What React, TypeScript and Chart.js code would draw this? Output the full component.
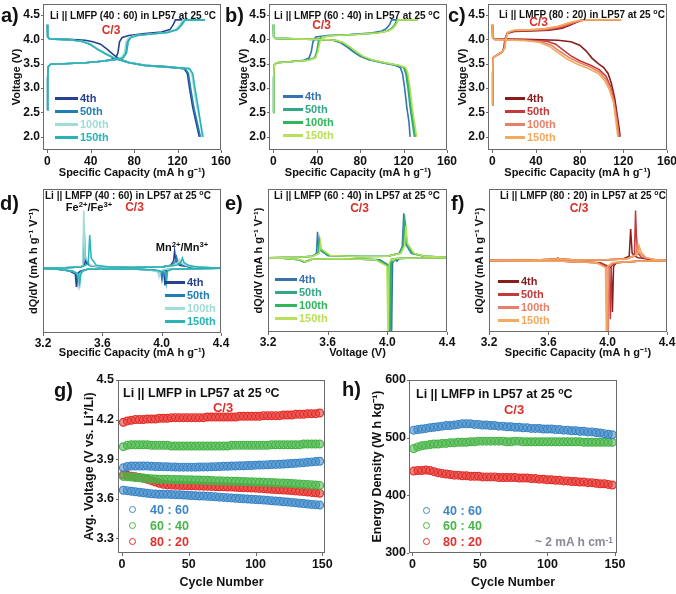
import React, { useEffect, useRef } from "react";
import { Chart, registerables } from "chart.js";
Chart.register(...registerables);

const FONT = "'Liberation Sans', Arial, Helvetica, sans-serif";

// ---------- tick labels ----------
const capTicks = [0, 40, 80, 120, 160];
const voltTicks = [2.0, 2.5, 3.0, 3.5, 4.0, 4.5];
const dqdvTicks = [3.2, 3.6, 4.0, 4.4];
const cycleTicks = [0, 50, 100, 150];
const avgVTicks = [3.3, 3.6, 3.9, 4.2, 4.5];
const energyTicks = [300, 400, 500, 600];
const cycleLabels = ["4th", "50th", "100th", "150th"];
const ratioLabels = ["40 : 60", "60 : 40", "80 : 20"];

// ---------- colours ----------
const aColors = ["#26418f", "#1f7fb5", "#9fdcd4", "#25b5b5"];
const bColors = ["#3574b0", "#33a888", "#2eb85a", "#b8e05a"];
const cColors = ["#8a1c1c", "#c43a3a", "#e8806a", "#f2aa5e"];
const ratioColors = ["#3d86c6", "#48b548", "#e3302b"];
const ratioFills = ["rgba(61,134,198,0.55)", "rgba(72,181,72,0.55)", "rgba(227,48,43,0.55)"];

// ---------- (a) 40:60 charge / discharge ----------
const a_chg_4 = [[0,2.55],[0.3,3.2],[0.8,3.44],[3,3.49],[15,3.5],[35,3.52],[50,3.55],[58,3.58],[63,3.62],[65,3.72],[66.5,3.95],[69,4.04],[75,4.08],[90,4.12],[105,4.15],[113,4.2],[116,4.3],[118,4.4],[145,4.4]];
const a_chg_50 = [[0,2.55],[0.3,3.2],[0.8,3.44],[3,3.49],[15,3.5],[35,3.52],[50,3.55],[62,3.58],[69,3.62],[72,3.72],[73.5,3.95],[76,4.04],[82,4.08],[95,4.11],[110,4.14],[119,4.2],[123,4.3],[126,4.4],[145,4.4]];
const a_chg_100 = [[0,2.55],[0.3,3.2],[0.8,3.44],[3,3.49],[15,3.5],[35,3.52],[50,3.55],[61,3.58],[68,3.62],[71,3.72],[72.5,3.95],[75,4.04],[81,4.08],[95,4.11],[110,4.14],[118,4.2],[122,4.3],[125,4.4],[145,4.4]];
const a_chg_150 = [[0,2.55],[0.3,3.2],[0.8,3.44],[3,3.49],[15,3.5],[35,3.52],[50,3.55],[63,3.58],[70,3.62],[73,3.72],[74.5,3.95],[77,4.04],[83,4.08],[96,4.11],[111,4.14],[120,4.2],[124,4.3],[127,4.4],[145,4.4]];
const a_dis_4 = [[0,4.3],[0.3,4.05],[2,4.01],[20,4.0],[35,3.98],[42,3.95],[49,3.9],[55,3.8],[60,3.7],[66,3.6],[75,3.53],[90,3.47],[110,3.44],[126,3.4],[129,3.3],[131,3.0],[134,2.6],[137,2.3],[140,2.0]];
const a_dis_50 = [[0,4.3],[0.3,4.05],[2,4.01],[20,3.99],[32,3.96],[40,3.9],[46,3.8],[54,3.7],[63,3.6],[75,3.52],[90,3.46],[110,3.43],[127,3.4],[130,3.3],[132,3.0],[135,2.6],[138,2.3],[141,2.0]];
const a_dis_100 = [[0,4.3],[0.3,4.05],[2,4.01],[20,3.99],[32,3.96],[40,3.9],[47,3.8],[55,3.7],[64,3.6],[76,3.52],[92,3.46],[112,3.43],[130,3.4],[133,3.3],[135,3.0],[138,2.6],[141,2.3],[144,2.0]];
const a_dis_150 = [[0,4.3],[0.3,4.05],[2,4.01],[20,3.99],[31,3.96],[39,3.9],[46,3.8],[54,3.7],[63,3.6],[75,3.52],[92,3.46],[112,3.43],[131,3.4],[134,3.3],[136,3.0],[139,2.6],[141,2.3],[143,2.0]];

// ---------- (b) 60:40 ----------
const b_chg_4 = [[0,2.5],[0.3,3.2],[0.8,3.47],[3,3.52],[15,3.54],[28,3.57],[33,3.62],[35,3.75],[36.5,3.95],[39,4.05],[50,4.08],[70,4.1],[90,4.13],[100,4.17],[104,4.22],[107,4.3],[109,4.4],[130,4.4]];
const b_chg_50 = [[0,2.5],[0.3,3.2],[0.8,3.47],[3,3.52],[15,3.54],[32,3.57],[38,3.62],[40,3.75],[41.5,3.95],[44,4.05],[55,4.08],[75,4.1],[95,4.13],[105,4.17],[109,4.22],[112,4.3],[114,4.4],[132,4.4]];
const b_chg_100 = [[0,2.5],[0.3,3.2],[0.8,3.47],[3,3.52],[15,3.54],[32,3.57],[38.5,3.62],[40.5,3.75],[42,3.95],[44.5,4.05],[55,4.08],[75,4.1],[95,4.13],[105,4.17],[109,4.22],[112,4.3],[114,4.4],[133,4.4]];
const b_chg_150 = [[0,2.5],[0.3,3.2],[0.8,3.47],[3,3.52],[15,3.54],[33,3.57],[39,3.62],[41,3.75],[43,3.95],[45.5,4.05],[56,4.08],[76,4.1],[96,4.13],[106,4.17],[110,4.22],[113,4.3],[115,4.4],[133,4.4]];
const b_dis_4 = [[0,4.3],[0.3,4.05],[2,4.02],[20,4.01],[40,4.0],[55,3.98],[62,3.93],[68,3.84],[74,3.74],[80,3.65],[88,3.58],[100,3.52],[112,3.47],[117,3.42],[119,3.3],[121,3.0],[123,2.6],[125,2.3],[126,2.0]];
const b_dis_50 = [[0,4.3],[0.3,4.05],[2,4.02],[20,4.01],[40,4.0],[57,3.98],[64,3.93],[70,3.84],[76,3.74],[82,3.65],[90,3.58],[102,3.52],[114,3.47],[120,3.42],[122,3.3],[124,3.0],[126,2.6],[128,2.3],[130,2.0]];
const b_dis_100 = [[0,4.3],[0.3,4.05],[2,4.02],[20,4.01],[40,4.0],[57,3.98],[64,3.93],[70,3.84],[76,3.74],[82,3.65],[90,3.58],[102,3.52],[115,3.47],[121,3.42],[123,3.3],[125,3.0],[127,2.6],[129,2.3],[131,2.0]];
const b_dis_150 = [[0,4.3],[0.3,4.05],[2,4.02],[20,4.01],[40,4.0],[58,3.98],[65,3.93],[71,3.84],[77,3.74],[83,3.65],[91,3.58],[103,3.52],[116,3.47],[122,3.42],[124,3.3],[126,3.0],[128,2.6],[130,2.3],[132,2.0]];

// ---------- (c) 80:20 ----------
const c_chg_4 = [[0,2.65],[0.3,3.3],[0.8,3.62],[3,3.66],[6,3.7],[9,3.74],[10.5,3.82],[11.5,4.0],[13.5,4.12],[20,4.16],[35,4.17],[52,4.19],[64,4.23],[72,4.3],[79,4.37],[82,4.4],[117,4.4]];
const c_chg_50 = [[0,2.65],[0.3,3.3],[0.8,3.62],[3,3.66],[6,3.7],[9,3.74],[11,3.82],[12,4.0],[14,4.13],[20,4.17],[35,4.18],[52,4.2],[64,4.25],[73,4.32],[81,4.38],[85,4.4],[118,4.4]];
const c_chg_100 = [[0,2.65],[0.3,3.3],[0.8,3.62],[3,3.66],[6,3.7],[9,3.74],[11,3.82],[12,4.0],[14,4.14],[20,4.18],[35,4.19],[50,4.21],[62,4.26],[72,4.33],[80,4.38],[86,4.4],[118,4.4]];
const c_chg_150 = [[0,2.65],[0.3,3.3],[0.8,3.62],[3,3.66],[6,3.7],[9,3.74],[11.5,3.82],[12.5,4.0],[14.5,4.15],[20,4.19],[35,4.2],[48,4.22],[60,4.27],[70,4.34],[80,4.39],[87,4.4],[118,4.4]];
const c_dis_4 = [[0,4.3],[0.3,4.04],[2,4.01],[30,4.0],[60,3.98],[72,3.95],[80,3.88],[86,3.76],[91,3.62],[97,3.5],[102,3.42],[106,3.3],[109,3.1],[112,2.8],[114,2.5],[116,2.2],[117,2.0]];
const c_dis_50 = [[0,4.3],[0.3,4.04],[2,4.0],[30,3.99],[50,3.96],[58,3.9],[65,3.78],[72,3.66],[80,3.56],[90,3.47],[98,3.38],[104,3.25],[108,3.05],[111,2.8],[114,2.4],[116,2.0]];
const c_dis_100 = [[0,4.3],[0.3,4.04],[2,4.0],[30,3.98],[45,3.95],[54,3.88],[62,3.75],[70,3.63],[80,3.52],[90,3.43],[98,3.33],[104,3.18],[108,3.0],[111,2.75],[114,2.35],[116,2.0]];
const c_dis_150 = [[0,4.3],[0.3,4.04],[2,4.0],[30,3.97],[43,3.94],[52,3.86],[60,3.73],[68,3.6],[78,3.49],[88,3.4],[97,3.3],[103,3.15],[107,2.98],[111,2.7],[113,2.35],[115,2.0]];

// ---------- (d) dQ/dV 40:60 ----------
const d_chg_4 = [[3.2,0],[3.35,0.3],[3.45,0.8],[3.48,2],[3.488,7],[3.495,3],[3.53,1.5],[3.6,0.8],[3.8,0.5],[4.0,0.8],[4.06,2],[4.08,5],[4.087,12],[4.095,5],[4.12,2],[4.2,0.6],[4.4,0.2]];
const d_chg_50 = [[3.2,0],[3.35,0.3],[3.45,0.8],[3.47,2],[3.477,30],[3.485,6],[3.52,1.5],[3.6,0.8],[3.8,0.5],[4.0,0.8],[4.07,2],[4.09,4],[4.1,8],[4.11,4],[4.14,2],[4.2,0.6],[4.4,0.2]];
const d_chg_100 = [[3.2,0],[3.35,0.3],[3.45,0.8],[3.468,2],[3.475,40],[3.483,8],[3.52,2],[3.6,0.8],[3.8,0.5],[4.0,0.8],[4.08,2],[4.11,4],[4.12,6],[4.13,4],[4.16,2],[4.22,0.6],[4.4,0.2]];
const d_chg_150 = [[3.2,0],[3.35,0.3],[3.46,0.8],[3.505,3],[3.515,23],[3.525,7],[3.56,2],[3.65,0.8],[3.8,0.5],[4.0,0.8],[4.1,2],[4.13,4],[4.14,7],[4.15,4],[4.18,2],[4.25,0.6],[4.4,0.2]];
const d_dis_4 = [[4.4,0],[4.2,-0.3],[4.06,-0.8],[4.03,-2],[4.022,-12],[4.015,-3],[3.95,-1.2],[3.8,-0.6],[3.6,-0.5],[3.5,-0.8],[3.45,-2],[3.43,-4],[3.425,-13],[3.418,-4],[3.38,-2],[3.3,-0.8],[3.2,-0.2]];
const d_dis_50 = [[4.4,0],[4.2,-0.3],[4.04,-0.8],[4.01,-2],[4.002,-8],[3.995,-3],[3.93,-1.2],[3.8,-0.6],[3.6,-0.5],[3.5,-0.8],[3.46,-2],[3.44,-4],[3.435,-10],[3.428,-4],[3.39,-2],[3.3,-0.8],[3.2,-0.2]];
const d_dis_100 = [[4.4,0],[4.2,-0.3],[4.02,-0.8],[3.99,-2],[3.982,-6],[3.975,-2.5],[3.92,-1.2],[3.8,-0.6],[3.6,-0.5],[3.5,-0.8],[3.47,-2],[3.45,-4],[3.443,-9],[3.435,-4],[3.4,-2],[3.3,-0.8],[3.2,-0.2]];
const d_dis_150 = [[4.4,0],[4.2,-0.3],[4.07,-0.8],[4.04,-2],[4.032,-10],[4.025,-3],[3.96,-1.2],[3.8,-0.6],[3.6,-0.5],[3.5,-0.8],[3.47,-2],[3.455,-4],[3.448,-11],[3.44,-4],[3.4,-2],[3.3,-0.8],[3.2,-0.2]];

// ---------- (e) dQ/dV 60:40 ----------
const e_chg_4 = [[3.2,0],[3.4,0.3],[3.5,1],[3.525,3],[3.532,18],[3.54,6],[3.6,1.5],[3.8,0.8],[4.0,1],[4.08,3],[4.1,8],[4.11,31],[4.12,10],[4.16,3],[4.25,1],[4.4,0.3]];
const e_chg_50 = [[3.2,0],[3.4,0.3],[3.5,1],[3.535,3],[3.542,13],[3.55,6],[3.6,1.5],[3.8,0.8],[4.0,1],[4.08,3],[4.105,8],[4.115,30],[4.125,10],[4.165,3],[4.25,1],[4.4,0.3]];
const e_chg_100 = [[3.2,0],[3.4,0.3],[3.5,1],[3.54,3],[3.547,12],[3.555,6],[3.61,1.5],[3.8,0.8],[4.0,1],[4.09,3],[4.11,8],[4.12,26],[4.13,10],[4.17,3],[4.25,1],[4.4,0.3]];
const e_chg_150 = [[3.2,0],[3.4,0.3],[3.5,1],[3.545,3],[3.552,11],[3.56,6],[3.62,1.5],[3.8,0.8],[4.0,1],[4.09,3],[4.115,8],[4.125,22],[4.135,10],[4.18,3],[4.25,1],[4.4,0.3]];
const e_dis_4 = [[4.4,0],[4.2,-0.3],[4.08,-0.6],[4.065,-2.5],[4.05,-1],[4.035,-4],[4.028,-60],[4.02,-6],[3.95,-1.5],[3.7,-0.8],[3.5,-1],[3.46,-2.5],[3.44,-3],[3.41,-1.5],[3.3,-0.5],[3.2,0]];
const e_dis_50 = [[4.4,0],[4.2,-0.3],[4.07,-0.6],[4.055,-2],[4.04,-1],[4.027,-4],[4.02,-60],[4.012,-6],[3.94,-1.5],[3.7,-0.8],[3.5,-1],[3.46,-2.5],[3.44,-3],[3.41,-1.5],[3.3,-0.5],[3.2,0]];
const e_dis_100 = [[4.4,0],[4.2,-0.3],[4.06,-0.6],[4.045,-2],[4.03,-1],[4.019,-4],[4.012,-60],[4.004,-6],[3.93,-1.5],[3.7,-0.8],[3.5,-1],[3.46,-2.5],[3.445,-3],[3.41,-1.5],[3.3,-0.5],[3.2,0]];
const e_dis_150 = [[4.4,0],[4.2,-0.3],[4.05,-0.6],[4.04,-2],[4.025,-1],[4.012,-4],[4.005,-60],[3.997,-6],[3.92,-1.5],[3.7,-0.8],[3.5,-1],[3.47,-2.5],[3.45,-3],[3.42,-1.5],[3.3,-0.5],[3.2,0]];

// ---------- (f) dQ/dV 80:20 ----------
const f_chg_4 = [[3.2,0],[3.5,0.3],[3.64,0.8],[3.665,1.5],[3.69,0.8],[3.8,0.3],[4.0,0.5],[4.1,1],[4.145,3],[4.155,22],[4.165,5],[4.2,2],[4.3,0.5],[4.4,0.2]];
const f_chg_50 = [[3.2,0],[3.5,0.3],[3.64,0.8],[3.665,1.5],[3.69,0.8],[3.8,0.3],[4.0,0.5],[4.12,1],[4.18,3],[4.188,35],[4.197,6],[4.23,2],[4.3,0.5],[4.4,0.2]];
const f_chg_100 = [[3.2,0],[3.5,0.3],[3.64,0.8],[3.665,1.2],[3.69,0.8],[3.8,0.3],[4.0,0.5],[4.12,1],[4.19,4],[4.2,13],[4.21,6],[4.25,2],[4.32,0.5],[4.4,0.2]];
const f_chg_150 = [[3.2,0],[3.5,0.3],[3.64,0.8],[3.665,1.2],[3.69,0.8],[3.8,0.3],[4.0,0.5],[4.13,1],[4.2,4],[4.213,10],[4.225,6],[4.26,2],[4.33,0.5],[4.4,0.2]];
const f_dis_4 = [[4.4,0],[4.2,-0.5],[4.06,-1.5],[4.04,-4],[4.032,-36],[4.024,-5],[3.95,-1.5],[3.7,-0.5],[3.4,-0.3],[3.2,0]];
const f_dis_50 = [[4.4,0],[4.2,-0.5],[4.05,-1.5],[4.025,-4],[4.018,-41],[4.01,-5],[3.94,-1.5],[3.7,-0.5],[3.4,-0.3],[3.2,0]];
const f_dis_100 = [[4.4,0],[4.2,-0.5],[4.04,-1.5],[4.01,-4],[4.003,-60],[3.995,-5],[3.93,-1.5],[3.7,-0.5],[3.4,-0.3],[3.2,0]];
const f_dis_150 = [[4.4,0],[4.2,-0.5],[4.03,-1.5],[4.0,-4],[3.992,-60],[3.985,-5],[3.92,-1.5],[3.7,-0.5],[3.4,-0.3],[3.2,0]];

// ---------- (g) / (h) cycling ----------
const cycles = [1,4,7,10,13,16,19,22,25,28,31,34,37,40,43,46,49,52,55,58,61,64,67,70,73,76,79,82,85,88,91,94,97,100,103,106,109,112,115,118,121,124,127,130,133,136,139,142,145,148];
const vChg_40_60 = [3.835,3.845,3.848,3.848,3.848,3.848,3.848,3.846,3.845,3.845, 3.844,3.843,3.842,3.841,3.84,3.84,3.84,3.84,3.84,3.841, 3.842,3.842,3.843,3.844,3.845,3.846,3.847,3.848,3.849,3.85, 3.851,3.852,3.853,3.855,3.856,3.857,3.858,3.86,3.861,3.862, 3.864,3.866,3.868,3.87,3.872,3.874,3.877,3.88,3.882,3.885];
const vDis_40_60 = [3.665,3.662,3.658,3.654,3.65,3.646,3.642,3.638,3.636,3.635, 3.635,3.634,3.633,3.632,3.631,3.629,3.627,3.625,3.624,3.622, 3.621,3.619,3.617,3.615,3.613,3.611,3.609,3.607,3.605,3.603, 3.601,3.599,3.597,3.595,3.593,3.591,3.589,3.586,3.584,3.581, 3.578,3.576,3.573,3.57,3.567,3.564,3.561,3.558,3.556,3.553];
const vChg_60_40 = [3.995,4.005,4.01,4.01,4.01,4.01,4.01,4.005,4.005,4.005, 4.005,4.005,4.0,4.0,4.0,4.0,4.0,4.0,4.0,4.0, 4.0,4.0,4.0,4.0,4.0,4.0,4.0,4.005,4.005,4.005, 4.005,4.005,4.005,4.005,4.005,4.005,4.005,4.01,4.01,4.01, 4.01,4.01,4.01,4.01,4.01,4.015,4.015,4.015,4.015,4.015];
const vDis_60_40 = [3.77,3.768,3.765,3.762,3.76,3.758,3.755,3.752,3.75,3.749, 3.748,3.748,3.747,3.746,3.746,3.745,3.745,3.744,3.743,3.742, 3.741,3.74,3.739,3.738,3.737,3.736,3.735,3.734,3.733,3.732, 3.731,3.73,3.729,3.728,3.727,3.726,3.724,3.723,3.722,3.721, 3.72,3.718,3.716,3.714,3.712,3.71,3.708,3.706,3.704,3.702];
const vChg_80_20 = [4.18,4.19,4.195,4.2,4.2,4.2,4.205,4.205,4.205,4.21, 4.21,4.21,4.215,4.215,4.215,4.215,4.215,4.215,4.215,4.215, 4.215,4.22,4.22,4.22,4.22,4.22,4.22,4.22,4.22,4.225, 4.225,4.225,4.225,4.225,4.225,4.23,4.23,4.23,4.23,4.23, 4.235,4.235,4.235,4.24,4.24,4.24,4.245,4.245,4.245,4.25];
const vDis_80_20 = [3.782,3.778,3.772,3.768,3.762,3.756,3.748,3.738,3.728,3.718, 3.71,3.706,3.704,3.703,3.702,3.701,3.7,3.699,3.698,3.697, 3.696,3.695,3.694,3.693,3.692,3.691,3.69,3.689,3.688,3.686, 3.685,3.684,3.682,3.681,3.679,3.677,3.675,3.673,3.671,3.669, 3.667,3.665,3.663,3.66,3.658,3.655,3.652,3.649,3.646,3.642];
const energy_40_60 = [513,514,515,516,517,518,519,520,521,521, 522,523,524,524,524,523,523,522,522,521, 521,520,520,519,519,518,518,517,517,516, 516,516,515,515,515,514,514,513,513,512, 512,511,511,510,510,509,508,507,506,505];
const energy_60_40 = [481,484,486,487,488,489,489,490,490,491, 491,492,492,492,493,493,494,494,494,494, 494,494,494,493,493,494,494,493,493,493, 493,493,493,493,493,493,493,493,493,493, 493,493,492,492,492,492,492,492,492,492];
const energy_80_20 = [442,443,443,444,443,441,439,438,437,436, 435,435,434,434,433,433,433,432,432,432, 432,431,431,431,431,431,430,430,430,429, 429,428,428,427,427,426,426,425,425,424, 424,423,423,422,422,421,420,420,419,418];

// ---------- chart building ----------
type Geo = { cl: number; ct: number; cw: number; ch: number; l: number; t: number; r: number; b: number };
type Axis = { min: number; max: number; ticks: number[] | null; fmt: (v: number) => string; title: string; titleAt: number; pad: number };
type Spec = { geo: Geo; x: Axis; y: Axis; datasets: any[]; tickSize: number; titleSize: number };

const f0 = (v: number) => String(v);
const f1 = (v: number) => v.toFixed(1);

function curveSets(chg: number[][][], dis: number[][][], colors: string[], w = 1.6) {
  const out: any[] = [];
  for (let i = chg.length - 1; i >= 0; i--) {
    for (const arr of [chg[i], dis[i]]) {
      out.push({
        data: arr.map((p) => ({ x: p[0], y: p[1] })),
        borderColor: colors[i],
        borderWidth: w,
        pointRadius: 0,
        showLine: true,
        fill: false,
      });
    }
  }
  return out;
}

function scatterSets(series: number[][], idx: number[]) {
  return series.map((vals, i) => ({
    data: vals.map((v, k) => ({ x: cycles[k], y: v })),
    borderColor: ratioColors[idx[i]],
    backgroundColor: ratioFills[idx[i]],
    pointBorderWidth: 1.2,
    pointRadius: 3.9,
    pointStyle: "circle",
    showLine: false,
  }));
}

const framePlugin = {
  id: "frame",
  afterDraw(chart: any) {
    const { ctx, chartArea: a } = chart;
    ctx.save();
    ctx.strokeStyle = "#6a6a6a";
    ctx.lineWidth = 1;
    ctx.strokeRect(a.left + 0.5, a.top + 0.5, a.right - a.left - 1, a.bottom - a.top - 1);
    const xs = chart.scales.x;
    xs.ticks.forEach((t: any) => {
      const px = Math.round(xs.getPixelForValue(t.value)) + 0.5;
      ctx.beginPath(); ctx.moveTo(px, a.bottom); ctx.lineTo(px, a.bottom + 3); ctx.stroke();
    });
    const ys = chart.scales.y;
    if (ys.options.ticks.display) {
      ys.ticks.forEach((t: any) => {
        const py = Math.round(ys.getPixelForValue(t.value)) + 0.5;
        ctx.beginPath(); ctx.moveTo(a.left, py); ctx.lineTo(a.left - 2, py); ctx.stroke();
      });
    }
    ctx.restore();
  },
};

function makeChart(canvas: HTMLCanvasElement, s: Spec) {
  const g = s.geo;
  const yW = g.l - g.cl;
  const xH = g.ct + g.ch - g.b;
  const lh = s.titleSize * 1.2;
  const tickFont = { family: FONT, size: s.tickSize, weight: "bold" as const };
  const titleFont = { family: FONT, size: s.titleSize, weight: "bold" as const };
  const axis = (ax: Axis, isX: boolean) => ({
    type: "linear",
    position: isX ? "bottom" : "left",
    min: ax.min,
    max: ax.max,
    afterFit: (sc: any) => {
      if (isX) sc.height = xH;
      else sc.width = yW;
    },
    afterBuildTicks: (sc: any) => {
      sc.ticks = (ax.ticks || []).map((v) => ({ value: v }));
    },
    grid: { display: false, drawTicks: false, tickLength: 0 },
    border: { display: false },
    ticks: {
      display: ax.ticks !== null,
      padding: ax.pad,
      font: tickFont,
      color: "#111",
      maxRotation: 0,
      autoSkip: false,
      callback: (v: any) => ax.fmt(Number(v)),
    },
    title: {
      display: true,
      text: ax.title,
      font: titleFont,
      color: "#111",
      padding: isX
        ? { top: 0, bottom: g.ct + g.ch - ax.titleAt - lh / 2 }
        : { top: ax.titleAt - g.cl - lh / 2, bottom: 0 },
    },
  });
  return new Chart(canvas, {
    type: "scatter",
    data: { datasets: s.datasets },
    options: {
      animation: false,
      responsive: false,
      maintainAspectRatio: false,
      layout: { padding: { top: g.t - g.ct, right: g.cl + g.cw - g.r, left: 0, bottom: 0 } },
      plugins: { legend: { display: false }, tooltip: { enabled: false } },
      scales: { x: axis(s.x, true) as any, y: axis(s.y, false) as any },
    },
    plugins: [framePlugin],
  } as any);
}

const capTitle = "Specific Capacity (mA h g\u207B\u00B9)";
const dqTitle = "dQ/dV (mA h g\u207B\u00B9 V\u207B\u00B9)";
const capAxis = (titleAt: number): Axis => ({ min: -4, max: 160, ticks: capTicks, fmt: f0, title: capTitle, titleAt, pad: 4 });
const voltAxis = (titleAt: number): Axis => ({ min: 1.73, max: 4.725, ticks: voltTicks, fmt: f1, title: "Voltage (V)", titleAt, pad: 3 });
const dqX = (title: string): Axis => ({ min: 3.2, max: 4.4, ticks: dqdvTicks, fmt: f1, title, titleAt: 353, pad: 3 });
const dqY = (min: number, max: number, titleAt: number): Axis => ({ min, max, ticks: null, fmt: f0, title: dqTitle, titleAt, pad: 0 });

const SPECS: Spec[] = [
  {
    geo: { cl: 0, ct: -12, cw: 238, ch: 194, l: 43, t: 4, r: 221, b: 150 },
    x: capAxis(172.6), y: voltAxis(17),
    datasets: curveSets([a_chg_4, a_chg_50, a_chg_100, a_chg_150], [a_dis_4, a_dis_50, a_dis_100, a_dis_150], aColors),
    tickSize: 12, titleSize: 11,
  },
  {
    geo: { cl: 228, ct: -12, cw: 234, ch: 194, l: 269, t: 4, r: 447, b: 150 },
    x: capAxis(172.6), y: voltAxis(243.5),
    datasets: curveSets([b_chg_4, b_chg_50, b_chg_100, b_chg_150], [b_dis_4, b_dis_50, b_dis_100, b_dis_150], bColors),
    tickSize: 12, titleSize: 11,
  },
  {
    geo: { cl: 452, ct: -12, cw: 232, ch: 194, l: 488, t: 4, r: 667, b: 150 },
    x: capAxis(172.6), y: voltAxis(463),
    datasets: curveSets([c_chg_4, c_chg_50, c_chg_100, c_chg_150], [c_dis_4, c_dis_50, c_dis_100, c_dis_150], cColors),
    tickSize: 12, titleSize: 11,
  },
  {
    geo: { cl: 0, ct: 177, cw: 238, ch: 185, l: 43, t: 189, r: 221, b: 333 },
    x: dqX(capTitle), y: dqY(-45, 55, 34),
    datasets: curveSets([d_chg_4, d_chg_50, d_chg_100, d_chg_150], [d_dis_4, d_dis_50, d_dis_100, d_dis_150], aColors, 1.5),
    tickSize: 12, titleSize: 11,
  },
  {
    geo: { cl: 228, ct: 177, cw: 234, ch: 185, l: 268, t: 189, r: 447, b: 332 },
    x: dqX("Voltage (V)"), y: dqY(-52, 48, 259),
    datasets: curveSets([e_chg_4, e_chg_50, e_chg_100, e_chg_150], [e_dis_4, e_dis_50, e_dis_100, e_dis_150], bColors, 1.5),
    tickSize: 12, titleSize: 11,
  },
  {
    geo: { cl: 452, ct: 177, cw: 232, ch: 185, l: 489, t: 189, r: 667, b: 332 },
    x: dqX(capTitle), y: dqY(-50, 50, 480),
    datasets: curveSets([f_chg_4, f_chg_50, f_chg_100, f_chg_150], [f_dis_4, f_dis_50, f_dis_100, f_dis_150], cColors, 1.5),
    tickSize: 12, titleSize: 11,
  },
  {
    geo: { cl: 40, ct: 368, cw: 300, ch: 226, l: 118, t: 380, r: 325, b: 553 },
    x: { min: -3, max: 152, ticks: cycleTicks, fmt: f0, title: "Cycle Number", titleAt: 583, pad: 4 },
    y: { min: 3.19, max: 4.5, ticks: avgVTicks, fmt: f1, title: "Avg. Voltage (V vs. Li\u207A/Li)", titleAt: 90, pad: 4 },
    datasets: scatterSets([vChg_80_20, vChg_60_40, vChg_40_60, vDis_60_40, vDis_80_20, vDis_40_60], [2, 1, 0, 1, 2, 0]),
    tickSize: 12.5, titleSize: 12.5,
  },
  {
    geo: { cl: 340, ct: 368, cw: 300, ch: 226, l: 409, t: 380, r: 617, b: 553 },
    x: { min: -2.5, max: 151.5, ticks: cycleTicks, fmt: f0, title: "Cycle Number", titleAt: 583, pad: 4 },
    y: { min: 300, max: 600, ticks: energyTicks, fmt: f0, title: "Energy Density (W h kg\u207B\u00B9)", titleAt: 378, pad: 3 },
    datasets: scatterSets([energy_40_60, energy_60_40, energy_80_20], [0, 1, 2]),
    tickSize: 12.5, titleSize: 12.5,
  },
];

// ---------- overlay text ----------
function T(props: { x: number; y: number; size?: number; color?: string; align?: "left" | "center" | "right"; children: React.ReactNode }) {
  const { x, y, size = 10, color = "#111", align = "left", children } = props;
  const tx = align === "center" ? "-50%" : align === "right" ? "-100%" : "0";
  return (
    <div style={{ position: "absolute", left: x, top: y, transform: `translate(${tx},-50%)`, fontSize: size, fontWeight: "bold", color, lineHeight: 1, whiteSpace: "nowrap", fontFamily: FONT }}>
      {children}
    </div>
  );
}
const Sup = ({ children }: { children: React.ReactNode }) => (
  <span style={{ fontSize: "70%", verticalAlign: "0.45em" }}>{children}</span>
);

function LineLegend(props: { x1: number; x2: number; ys: number[]; colors: string[] }) {
  return (
    <>
      {cycleLabels.map((lab, i) => (
        <React.Fragment key={lab}>
          <div style={{ position: "absolute", left: props.x1, top: props.ys[i] - 1.5, width: props.x2 - props.x1, height: 3, background: props.colors[i] }} />
          <T x={props.x2 + 2} y={props.ys[i]} size={11} color={props.colors[i]}>{lab}</T>
        </React.Fragment>
      ))}
    </>
  );
}

function DotLegend(props: { cx: number; tx: number; ys: number[] }) {
  return (
    <>
      {ratioLabels.map((lab, i) => (
        <React.Fragment key={lab}>
          <div style={{ position: "absolute", left: props.cx - 4, top: props.ys[i] - 4, width: 5, height: 5, border: `1.5px solid ${ratioColors[i]}`, borderRadius: "50%" }} />
          <T x={props.tx} y={props.ys[i]} size={12.5} color={ratioColors[i]}>{lab}</T>
        </React.Fragment>
      ))}
    </>
  );
}

const RED = "#d8302a";

export default function App() {
  const refs = useRef<(HTMLCanvasElement | null)[]>([]);
  useEffect(() => {
    const charts = SPECS.map((s, i) => makeChart(refs.current[i] as HTMLCanvasElement, s));
    return () => charts.forEach((c) => c.destroy());
  }, []);
  const smallTitle = (r: string) => <>Li || LMFP ({r}) in LP57 at 25 <Sup>o</Sup>C</>;
  return (
    <div style={{ position: "fixed", left: 0, top: 0, width: 676, height: 594, background: "#fff", overflow: "hidden", fontFamily: FONT }}>
      {SPECS.map((s, i) => (
        <canvas
          key={i}
          ref={(el) => { refs.current[i] = el; }}
          width={s.geo.cw}
          height={s.geo.ch}
          style={{ position: "absolute", left: s.geo.cl, top: s.geo.ct, width: s.geo.cw, height: s.geo.ch }}
        />
      ))}

      {/* panel labels */}
      <T x={1} y={15} size={20}>a)</T>
      <T x={225} y={15} size={20}>b)</T>
      <T x={448} y={15} size={20}>c)</T>
      <T x={0} y={203} size={20}>d)</T>
      <T x={225} y={203} size={20}>e)</T>
      <T x={451} y={203} size={20}>f)</T>
      <T x={54} y={390} size={20}>g)</T>
      <T x={342} y={389} size={20}>h)</T>

      {/* small titles */}
      <T x={50} y={15}>{smallTitle("40 : 60")}</T>
      <T x={274} y={15}>{smallTitle("60 : 40")}</T>
      <T x={499} y={14}>{smallTitle("80 : 20")}</T>
      <T x={45} y={195}>{smallTitle("40 : 60")}</T>
      <T x={274} y={195}>{smallTitle("60 : 40")}</T>
      <T x={500} y={195}>{smallTitle("80 : 20")}</T>

      {/* C/3 labels */}
      <T x={111} y={30} size={12} color={RED} align="center">C/3</T>
      <T x={321.5} y={25} size={12} color={RED} align="center">C/3</T>
      <T x={538.5} y={22} size={12} color={RED} align="center">C/3</T>
      <T x={134.5} y={207} size={12} color={RED} align="center">C/3</T>
      <T x={359.5} y={208} size={12} color={RED} align="center">C/3</T>
      <T x={579} y={208} size={12} color={RED} align="center">C/3</T>
      <T x={223} y={407} size={13} color={RED} align="center">C/3</T>
      <T x={514} y={409} size={13} color={RED} align="center">C/3</T>

      {/* redox labels */}
      <T x={89} y={207} size={11} align="center">Fe<Sup>2+</Sup>/Fe<Sup>3+</Sup></T>
      <T x={182} y={247} size={11} align="center">Mn<Sup>2+</Sup>/Mn<Sup>3+</Sup></T>

      {/* big titles */}
      <T x={123} y={393} size={12.5}>Li || LMFP in LP57 at 25 <Sup>o</Sup>C</T>
      <T x={416} y={394} size={12.5}>Li || LMFP in LP57 at 25 <Sup>o</Sup>C</T>

      {/* legends */}
      <LineLegend x1={55} x2={78} ys={[98, 111, 124, 137]} colors={aColors} />
      <LineLegend x1={283} x2={303} ys={[96, 109, 122, 135]} colors={bColors} />
      <LineLegend x1={505} x2={525} ys={[98, 111, 124, 137]} colors={cColors} />
      <LineLegend x1={165} x2={185} ys={[282, 295, 308, 321]} colors={aColors} />
      <LineLegend x1={275} x2={297} ys={[279, 292, 305, 318]} colors={bColors} />
      <LineLegend x1={498} x2={519} ys={[281, 294, 307, 320]} colors={cColors} />
      <DotLegend cx={133} tx={150} ys={[510, 526, 542]} />
      <DotLegend cx={427} tx={443} ys={[511, 526, 542]} />
      <T x={613} y={542} size={12} color="#8a8a98" align="right">~ 2 mA h cm<Sup>-1</Sup></T>
    </div>
  );
}
